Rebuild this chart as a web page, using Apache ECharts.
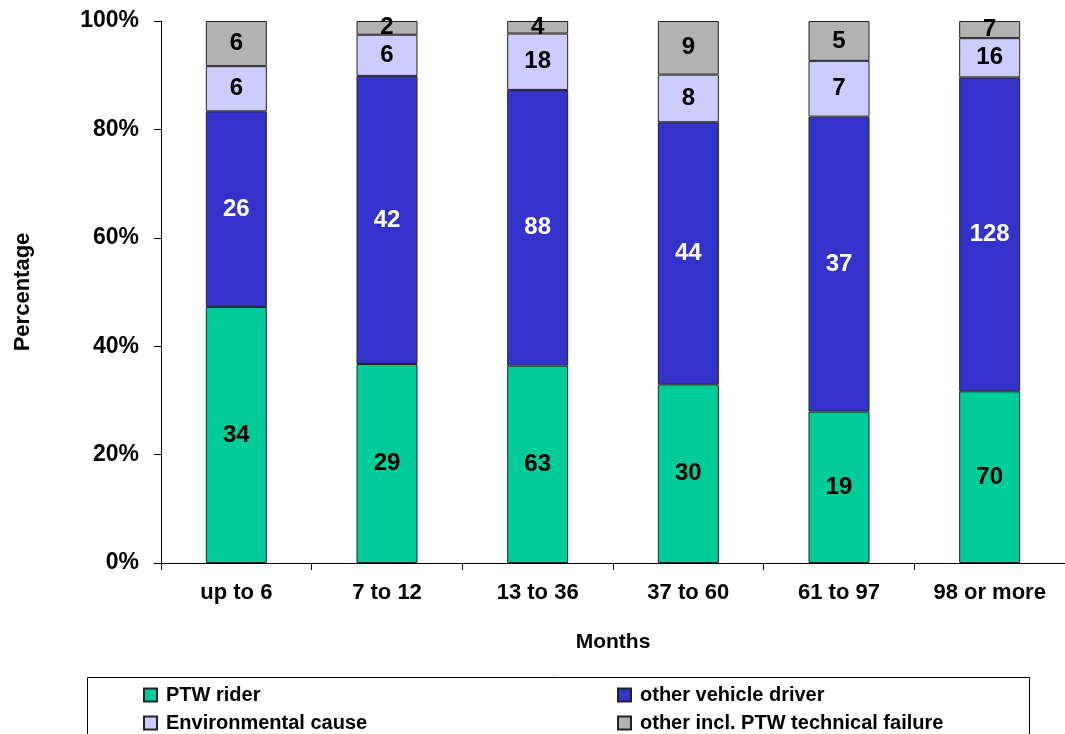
<!DOCTYPE html>
<html>
<head>
<meta charset="utf-8">
<script src="https://cdn.jsdelivr.net/npm/echarts@6/dist/echarts.min.js"></script>
<style>
  html, body { margin: 0; padding: 0; background: #fff; }
  #chart { width: 1065px; height: 734px; }
</style>
</head>
<body>
<div id="chart"></div>
<script>
const months = ['up to 6', '7 to 12', '13 to 36', '37 to 60', '61 to 97', '98 or more'];
const ptwRider = [34, 29, 63, 30, 19, 70];
const otherDriver = [26, 42, 88, 44, 37, 128];
const environmental = [6, 6, 18, 8, 7, 16];
const otherTechnical = [6, 2, 4, 9, 5, 7];
const yTicks = [0, 20, 40, 60, 80, 100];

const FONT = '"Liberation Sans", Arial, sans-serif';
const totals = months.map((m, i) => ptwRider[i] + otherDriver[i] + environmental[i] + otherTechnical[i]);

function makeSeries(name, counts, color, labelColor) {
  return {
    name: name,
    type: 'bar',
    stack: 'total',
    barWidth: 61,
    data: counts.map((c, i) => ({ value: c / totals[i] * 100, count: c })),
    itemStyle: { color: color, borderColor: '#222', borderWidth: 1 },
    label: {
      show: true,
      position: 'inside',
      color: labelColor,
      fontFamily: FONT,
      fontWeight: 'bold',
      fontSize: 24,
      formatter: (p) => p.data.count,
    },
  };
}

const legendText = { fontFamily: FONT, fontWeight: 'bold', fontSize: 20, color: '#000', padding: [0, 0, 0, 4] };

const chart = echarts.init(document.getElementById('chart'));
chart.setOption({
  animation: false,
  grid: { left: 161, right: 0, top: 21, bottom: 171 },
  xAxis: {
    type: 'category',
    data: months,
    name: 'Months',
    nameLocation: 'middle',
    nameGap: 69,
    nameTextStyle: { fontFamily: FONT, fontWeight: 'bold', fontSize: 21, color: '#000' },
    axisLine: { lineStyle: { color: '#000', width: 1 } },
    axisTick: { show: true, interval: 0, length: 7, lineStyle: { color: '#000' } },
    axisLabel: { interval: 0, margin: 19, fontFamily: FONT, fontWeight: 'bold', fontSize: 22, color: '#000' },
  },
  yAxis: {
    type: 'value',
    min: yTicks[0],
    max: yTicks[yTicks.length - 1],
    interval: 20,
    name: 'Percentage',
    nameLocation: 'middle',
    nameGap: 127,
    nameTextStyle: { fontFamily: FONT, fontWeight: 'bold', fontSize: 22, color: '#000' },
    splitLine: { show: false },
    axisLine: { show: true, lineStyle: { color: '#000', width: 1 } },
    axisTick: { show: true, length: 7, lineStyle: { color: '#000' } },
    axisLabel: { margin: 22, fontFamily: FONT, fontWeight: 'bold', fontSize: 23, color: '#000', formatter: '{value}%' },
  },
  legend: [
    {
      orient: 'vertical',
      left: 143,
      top: 685,
      padding: 0,
      itemGap: 8,
      itemWidth: 13,
      itemHeight: 13,
      icon: 'rect',
      data: ['PTW rider', 'Environmental cause'],
      textStyle: legendText,
    },
    {
      orient: 'vertical',
      left: 617,
      top: 685,
      padding: 0,
      itemGap: 8,
      itemWidth: 13,
      itemHeight: 13,
      icon: 'rect',
      data: ['other vehicle driver', 'other incl. PTW technical failure'],
      textStyle: legendText,
    },
  ],
  graphic: [
    {
      type: 'rect',
      shape: { x: 87.5, y: 677.5, width: 942, height: 80 },
      style: { fill: 'none', stroke: '#000', lineWidth: 1 },
    },
  ],
  series: [
    makeSeries('PTW rider', ptwRider, '#00CC99', '#000'),
    makeSeries('other vehicle driver', otherDriver, '#3333CC', '#fff'),
    makeSeries('Environmental cause', environmental, '#CCCCFF', '#000'),
    makeSeries('other incl. PTW technical failure', otherTechnical, '#B2B2B2', '#000'),
  ],
});
</script>
</body>
</html>
